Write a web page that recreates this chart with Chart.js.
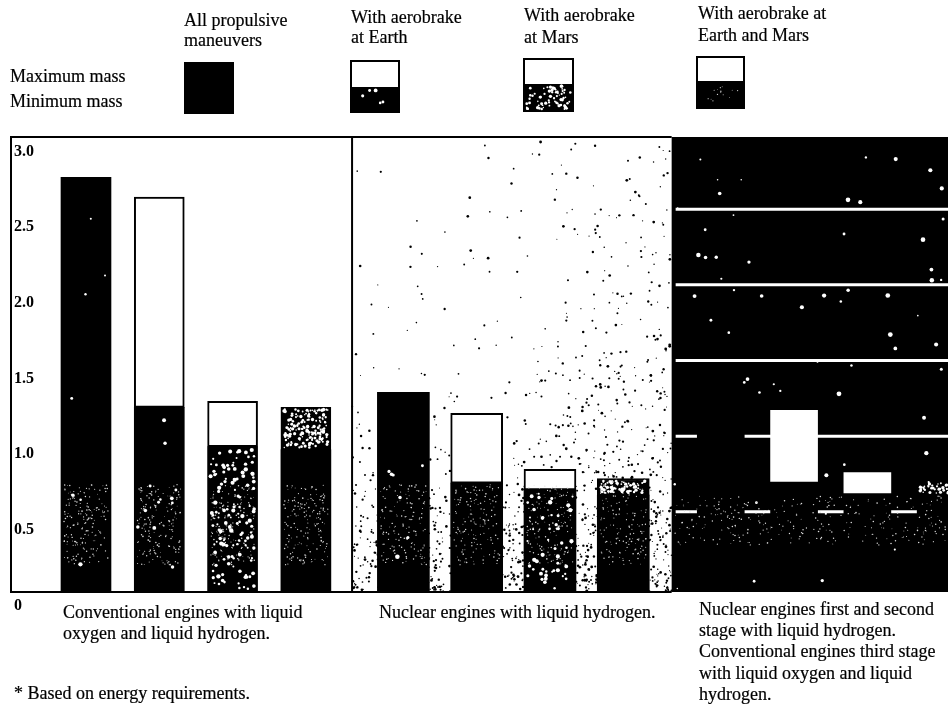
<!DOCTYPE html>
<html><head><meta charset="utf-8">
<script src="https://cdn.jsdelivr.net/npm/chart.js@4"></script>
<style>
html,body{margin:0;padding:0;background:#fff;overflow:hidden}
#page{position:relative;width:948px;height:705px;overflow:hidden;font-family:"Liberation Serif",serif;color:#000}
canvas{position:absolute;left:0;top:0}
.t{position:absolute;white-space:nowrap;font-size:18px;line-height:20px;-webkit-text-stroke:.2px #000}
</style></head><body>
<div id="page"><canvas id="c" width="948" height="705"></canvas></div>
<script>
// ---- values (mass, by aerobrake option) ----
const categories = ['All propulsive maneuvers','With aerobrake at Earth','With aerobrake at Mars','With aerobrake at Earth and Mars'];
const panels = ['Conventional engines','Nuclear engines','Nuclear first and second stage, conventional third stage'];
const conventionalMin = [2.71,1.19,0.93,0.91];
const conventionalMax = [2.71,2.58,1.23,1.19];
const nuclearMin      = [1.29,0.69,0.645,0.61];
const nuclearMax      = [1.29,1.15,0.78,0.72];
const mixedMin        = [1.25,0.70,0.625,0.61];
const mixedMax        = [1.25,1.17,0.76,0.71];
const yTicks = [0,0.5,1.0,1.5,2.0,2.5,3.0];

// ---- caption text ----
const captions = [
 [184,10,'All propulsive'],[184,30,'maneuvers'],
 [351,7,'With aerobrake'],[351,27,'at Earth'],
 [524,5,'With aerobrake'],[524,27,'at Mars'],
 [698,3,'With aerobrake at'],[698,25,'Earth and Mars'],
 [10,66,'Maximum mass'],[10,91,'Minimum mass'],
 [63,602,'Conventional engines with liquid'],[63,623,'oxygen and liquid hydrogen.'],
 [379,602,'Nuclear engines with liquid hydrogen.'],
 [699,599,'Nuclear engines first and second'],[699,620,'stage with liquid hydrogen.'],
 [699,641,'Conventional engines third stage'],[699,663,'with liquid oxygen and liquid'],[699,684,'hydrogen.'],
 [14,683,'* Based on energy requirements.']
];
const pageEl = document.getElementById('page');
captions.forEach(([x,y,s])=>{const d=document.createElement('div');d.className='t';d.style.left=x+'px';d.style.top=y+'px';d.textContent=s;pageEl.appendChild(d);});

// ---- layout helpers ----
const panelStart = [0,4.33,8.66];
const barWidths = [50,52,47];
const panelEdges = [-1.023,3.63,7.99,11.76];
const yMin = -0.03;
const frameTop = 137, frameBottom = 592;

function pair(p, mins, maxs, border){
  return [
    {label:panels[p]+' minimum',data:mins.map((v,i)=>({x:panelStart[p]+i,y:[yMin,v]})),backgroundColor:'#000',barThickness:barWidths[p],borderSkipped:false,grouped:false,order:2},
    {label:panels[p]+' maximum',data:maxs.map((v,i)=>({x:panelStart[p]+i,y:[mins[i],v]})),
     backgroundColor:c=>(c.dataIndex===3||c.dataIndex===0)?'#000':'#fff',
     borderColor:'#000',borderWidth:border?2:0,barThickness:barWidths[p],borderSkipped:false,grouped:false,order:1}
  ];
}

// deterministic scan grain (a texture only, not data)
function grain(seed){let s=seed>>>0;return()=>{s=(s*1664525+1013904223)>>>0;return s/4294967296;};}
function dots(ctx,x0,y0,x1,y1,n,r0,r1,color,rnd,weight){
  ctx.fillStyle=color;
  for(let i=0;i<n;i++){
    const x=x0+rnd()*(x1-x0),y=y0+rnd()*(y1-y0);
    if(weight&&rnd()>weight(x,y))continue;
    const r=r0+rnd()*(r1-r0);
    ctx.beginPath();ctx.arc(x,y,r,0,7);ctx.fill();
  }
}
function swatch(ctx,x,w,t,b,split,kind){
  ctx.fillStyle='#000';ctx.fillRect(x,t,w,b-t);
  if(split){ctx.fillStyle='#fff';ctx.fillRect(x+2,t+2,w-4,split-t-2);}
  if(kind==='blobs')dots(ctx,x+3,split+2,x+w-3,b-2,70,.7,1.7,'#fff',grain(x));
  if(kind==='few')dots(ctx,x+4,split+3,x+w-4,b-3,5,1,2,'#fff',grain(x));
  if(kind==='fine')dots(ctx,x+4,split+5,x+w-4,b-8,14,.4,.7,'#ccc',grain(x));
}

const scanPlugin = {
  id:'scan',
  beforeDatasetsDraw(chart){
    const {ctx,scales:{x,y}}=chart;
    const ex=panelEdges.map(v=>x.getPixelForValue(v));
    ctx.save();
    ctx.fillStyle='#000';ctx.fillRect(ex[2],frameTop,948-ex[2],frameBottom-frameTop);
    dots(ctx,ex[1],frameTop,ex[2],frameBottom,16000,.5,1.4,'#000',grain(7),(px,py)=>{
      const t=(px-ex[1])/(ex[2]-ex[1]),v=(py-frameTop)/(frameBottom-frameTop);
      const low=Math.max(0,v-.45)/.55;
      return .006+.05*t*t*t+.10*Math.max(0,v-.15)*t*t+.07*low+.30*low*low*low;
    });
    ctx.strokeStyle='#fff';ctx.lineWidth=3;
    yTicks.filter(v=>v>0&&v<3).forEach(v=>{
      const py=y.getPixelForValue(v);
      ctx.beginPath();ctx.moveTo(ex[2]+4,py);ctx.lineTo(948,py);ctx.stroke();
    });
    dots(ctx,ex[2]+2,frameTop+2,946,frameBottom-2,70,.7,2.4,'#fff',grain(31));
    ctx.restore();
  },
  afterDatasetsDraw(chart){
    const {ctx,scales:{x,y}}=chart;
    ctx.save();
    const rnd=grain(99);
    const ex=panelEdges.map(v=>x.getPixelForValue(v));
    dots(ctx,ex[2]+2,496,946,545,300,.4,.8,'#ddd',grain(13));
    chart.data.datasets.forEach((ds,di)=>{
      const meta=chart.getDatasetMeta(di);
      const isMax=di%2===1, p=Math.floor(di/2);
      meta.data.forEach((el,i)=>{
        const w=el.width/2-3, l=el.x-w, r=el.x+w;
        if(isMax){
          if(i===3){
            const n=p===0?170:p===1?70:60;
            dots(ctx,l,el.y+2,r,el.base-2,n,.7,1.7,'#fff',rnd);
          }
          return;
        }
        if(p<2) dots(ctx,l,y.getPixelForValue(.68),r,y.getPixelForValue(.15),p===0?170:150,.4,.8,'#ddd',rnd);
        if(i===2&&p<2) dots(ctx,l,el.y+3,r,frameBottom-3,p===0?130:50,.9,2.2,'#fff',rnd);
        if(i===1&&p===0) dots(ctx,l,el.y+8,r,frameBottom-8,12,1.2,2.2,'#fff',rnd);
        if(i===0&&p<2) dots(ctx,l,el.y+6,r,frameBottom-6,7,.8,2.4,'#fff',rnd);
      });
    });
    ctx.strokeStyle='#000';ctx.lineWidth=2;
    ctx.beginPath();
    ctx.moveTo(ex[2],frameTop);ctx.lineTo(ex[0],frameTop);ctx.lineTo(ex[0],frameBottom);ctx.lineTo(ex[2],frameBottom);
    ctx.moveTo(ex[1],frameTop);ctx.lineTo(ex[1],frameBottom);
    ctx.stroke();
    swatch(ctx,184,50,62,114,0,'');
    swatch(ctx,350,50,60,113,87,'few');
    swatch(ctx,523,51,58,112,84,'blobs');
    swatch(ctx,696,49,56,109,81,'fine');
    ctx.restore();
  }
};

new Chart(document.getElementById('c'),{
  type:'bar',
  data:{datasets:[
    ...pair(0,conventionalMin,conventionalMax,true),
    ...pair(1,nuclearMin,nuclearMax,true),
    ...pair(2,mixedMin,mixedMax,false)
  ]},
  options:{
    responsive:false,animation:false,
    layout:{padding:{top:133.5,bottom:113,left:11,right:0}},
    plugins:{legend:{display:false},tooltip:{enabled:false}},
    scales:{
      x:{type:'linear',display:false,offset:false,min:panelEdges[0],max:panelEdges[3],grid:{display:false}},
      y:{min:yMin,max:3,
        afterFit(s){s.width=0;},
        afterBuildTicks(s){s.ticks=yTicks.map(v=>({value:v}));},
        border:{display:false},
        grid:{display:false,drawTicks:false},
        ticks:{mirror:true,padding:3,labelOffset:18,color:'#000',autoSkip:false,
          font:{family:'"Liberation Serif",serif',size:16,weight:'bold'},
          callback:v=>v===0?'0':v.toFixed(1)}
      }
    }
  },
  plugins:[scanPlugin]
});
</script>
</body></html>
